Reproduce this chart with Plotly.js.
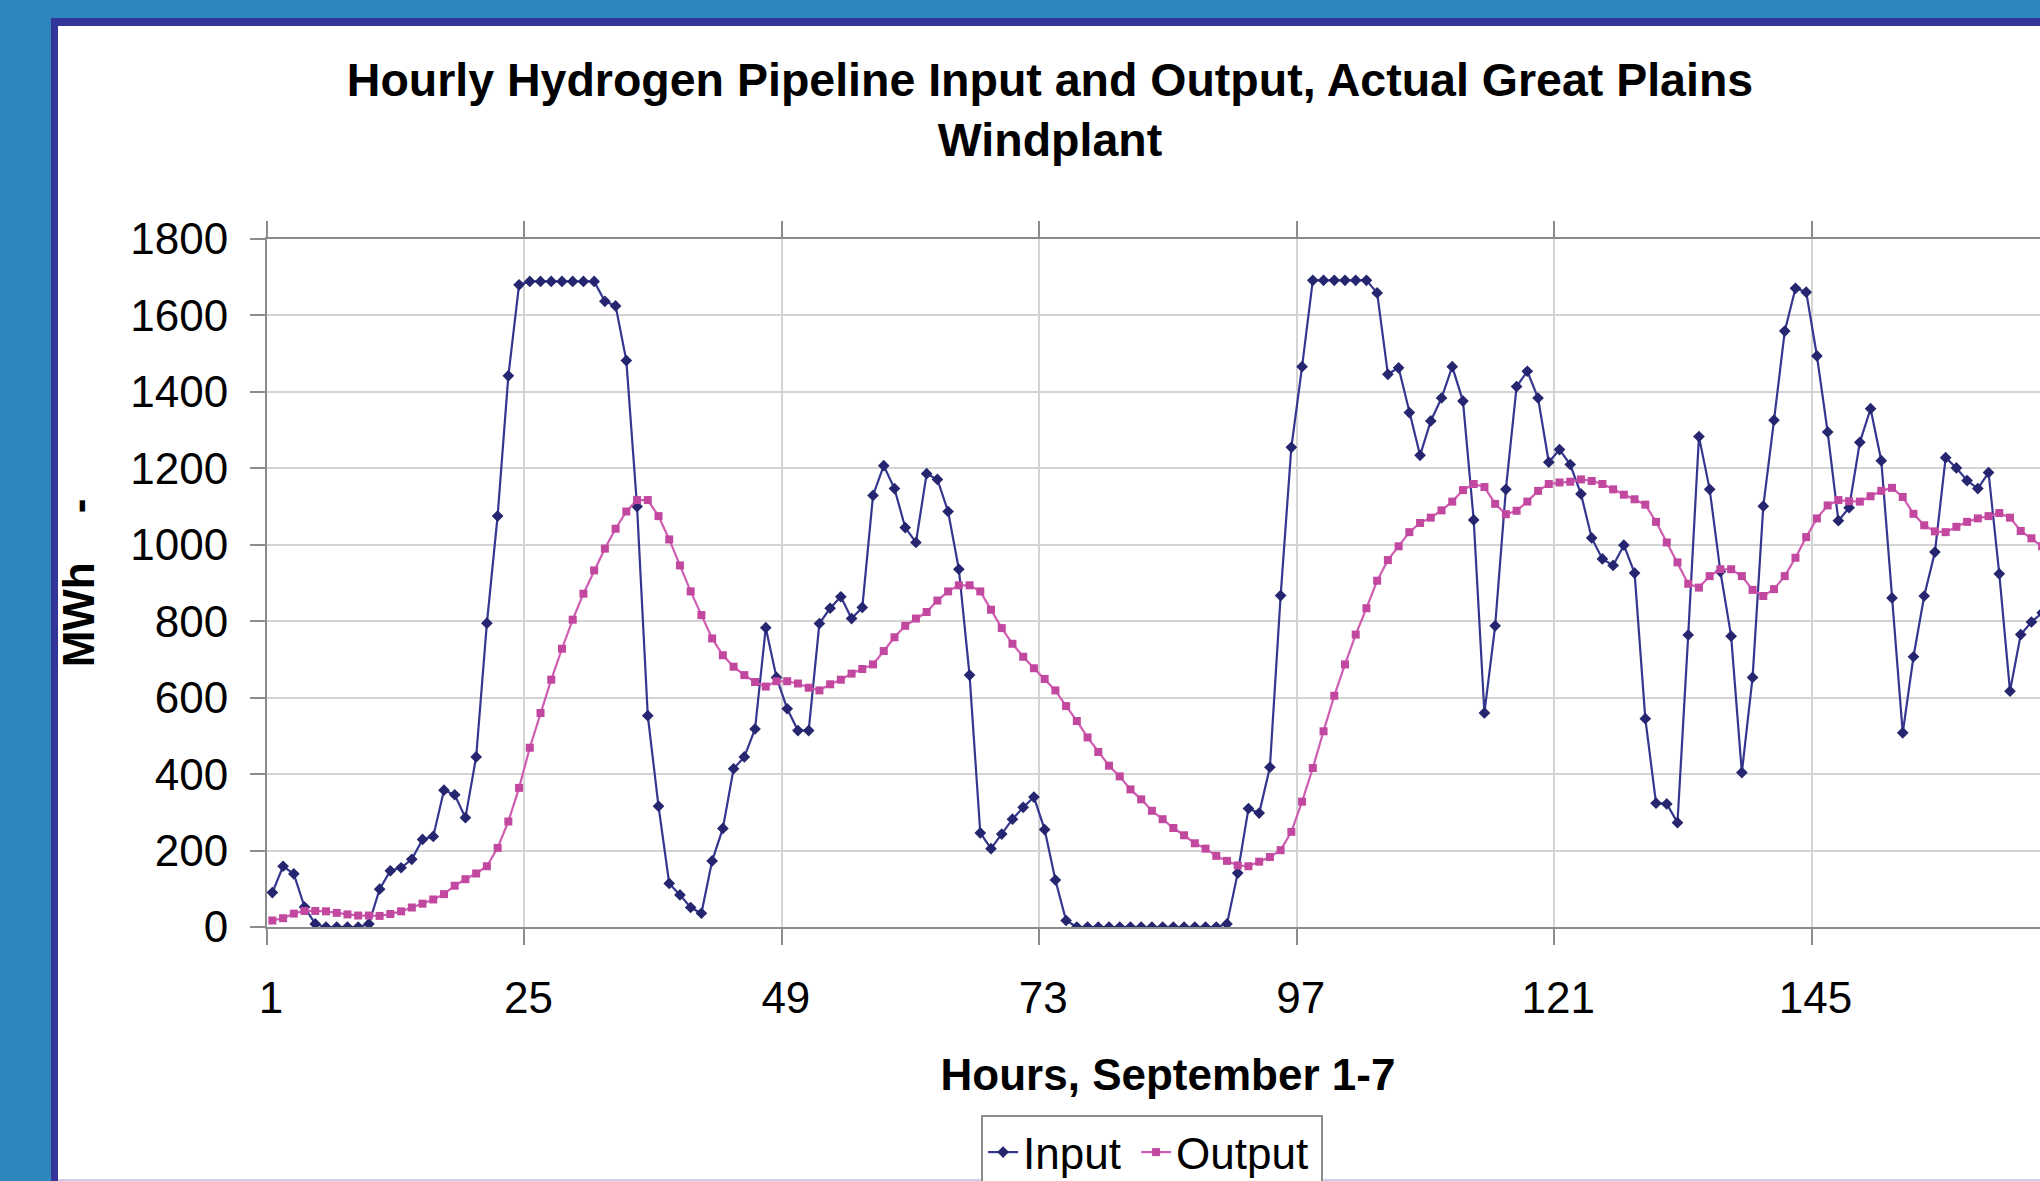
<!DOCTYPE html>
<html>
<head>
<meta charset="utf-8">
<script src="https://cdn.plot.ly/plotly-3.0.1.min.js"></script>
<style>
  html, body { margin: 0; padding: 0; width: 2040px; height: 1181px; overflow: hidden; background: #2F86BD; }
  #frame { position: absolute; left: 51px; top: 18px; width: 1989px; height: 1163px; background: #34359A; }
  #inner { position: absolute; left: 58px; top: 26px; width: 1982px; height: 1153px; background: #ffffff; border-bottom: 2px solid #CFCFEA; }
  #chart { position: absolute; left: 0; top: 0; width: 2100px; height: 1181px; }
</style>
</head>
<body>
<div id="frame"></div>
<div id="inner"></div>
<div id="chart"></div>
<script>
// Hourly values, September 1-7 (hours 1..166 visible in the reference)
const inputMWh = [
  90, 159, 139, 52, 8, 0, 0, 0, 0, 8,
  99, 147, 155, 177, 229, 237, 358, 346, 286, 445,
  795, 1075, 1442, 1680, 1689, 1689, 1689, 1689, 1689, 1689,
  1689, 1637, 1625, 1482, 1100, 553, 316, 114, 84, 51,
  36, 173, 258, 414, 445, 518, 783, 653, 571, 514,
  514, 794, 834, 864, 807, 836, 1129, 1207, 1147, 1045,
  1006, 1186, 1171, 1087, 936, 659, 246, 205, 243, 282,
  313, 340, 255, 123, 17, 0, 0, 0, 0, 0,
  0, 0, 0, 0, 0, 0, 0, 0, 0, 8,
  141, 310, 298, 418, 867, 1255, 1466, 1692, 1692, 1692,
  1692, 1692, 1692, 1659, 1446, 1463, 1346, 1234, 1324, 1384,
  1466, 1376, 1065, 560, 788, 1145, 1414, 1454, 1384, 1216,
  1249, 1210, 1133, 1018, 963, 946, 999, 926, 545, 324,
  322, 273, 764, 1283, 1145, 930, 761, 404, 653, 1101,
  1326, 1559, 1671, 1661, 1494, 1295, 1063, 1097, 1268, 1356,
  1220, 861, 508, 707, 866, 981, 1228, 1201, 1168, 1147,
  1189, 924, 617, 765, 798, 822
];
const outputMWh = [
  17, 23, 35, 42, 42, 41, 37, 33, 30, 30,
  29, 34, 41, 51, 61, 72, 86, 108, 125, 140,
  159, 207, 276, 364, 469, 560, 647, 728, 804, 872,
  933, 990, 1042, 1087, 1117, 1117, 1075, 1014, 946, 878,
  816, 755, 711, 681, 659, 641, 629, 643, 643, 637,
  626, 619, 635, 647, 663, 675, 687, 722, 758, 788,
  807, 824, 854, 878, 894, 894, 878, 830, 782, 741,
  707, 677, 649, 619, 578, 539, 496, 458, 422, 394,
  360, 334, 304, 282, 259, 240, 219, 205, 186, 173,
  161, 159, 171, 183, 201, 249, 328, 416, 512, 605,
  687, 765, 834, 906, 960, 996, 1033, 1057, 1071, 1090,
  1113, 1143, 1159, 1151, 1107, 1080, 1089, 1113, 1141, 1159,
  1163, 1165, 1171, 1167, 1159, 1145, 1131, 1119, 1105, 1060,
  1006, 954, 898, 888, 918, 936, 936, 918, 882, 866,
  884, 918, 966, 1020, 1069, 1103, 1117, 1114, 1113, 1127,
  1141, 1149, 1125, 1081, 1051, 1035, 1033, 1047, 1060, 1069,
  1075, 1083, 1071, 1036, 1017, 996
];
const hours = inputMWh.map((_, i) => i + 1);
const tickHours = [1, 25, 49, 73, 97, 121, 145];
const tickLabels = ["1", "25", "49", "73", "97", "121", "145"];
const yTicks = [0, 200, 400, 600, 800, 1000, 1200, 1400, 1600, 1800];

const FONT = "Liberation Sans, Arial, sans-serif";
const W = 2100, H = 1181;
const pxPerHour = 10.725;
const plotLeft = 267, plotTop = 239, plotBottom = 927;
const plotRight = plotLeft + 168 * pxPerHour; // full week of 168 hours; right part falls outside the 2040px view

const traces = [
  {
    x: hours, y: inputMWh, name: "Input", type: "scatter", mode: "lines+markers",
    line: { color: "#35368F", width: 2.2 },
    marker: { symbol: "diamond", size: 9, color: "#25266F" },
    legendwidth: 108,
    cliponaxis: true
  },
  {
    x: hours, y: outputMWh, name: "Output", type: "scatter", mode: "lines+markers",
    line: { color: "#CF5CB3", width: 2.2 },
    marker: { symbol: "square", size: 8, color: "#C2479F" },
    legendwidth: 140,
    cliponaxis: true
  }
];

const layout = {
  width: W, height: H,
  paper_bgcolor: "rgba(0,0,0,0)", plot_bgcolor: "rgba(0,0,0,0)",
  margin: { l: plotLeft, r: W - plotRight, t: plotTop, b: H - plotBottom, pad: 0, autoexpand: false },
  font: { family: FONT, color: "#000000", size: 44 },
  title: {
    text: "<b>Hourly Hydrogen Pipeline Input and Output, Actual Great Plains<br>Windplant</b>",
    font: { family: FONT, size: 46.5, color: "#000000" },
    xref: "container", x: 1050 / W, xanchor: "center",
    yref: "container", y: 1 - 96 / H, yanchor: "top"
  },
  xaxis: {
    range: [0.5, 168.5],
    tickmode: "array",
    tickvals: tickHours.map(h => h - 0.5),
    ticktext: tickLabels,
    ticks: "outside", ticklen: 16, tickwidth: 2, tickcolor: "#8C8C8C",
    ticklabelstandoff: 15, ticklabelshift: 4,
    tickfont: { family: FONT, size: 44, color: "#000000" },
    showgrid: true, gridcolor: "#D4D4D4", gridwidth: 2,
    showline: true, linecolor: "#8C8C8C", linewidth: 2, mirror: "allticks",
    zeroline: false, fixedrange: true,
    title: { text: "<b>Hours, September 1-7</b>", font: { family: FONT, size: 44, color: "#000000" }, standoff: 38 }
  },
  yaxis: {
    range: [0, 1800],
    tickmode: "array", tickvals: yTicks, ticktext: yTicks.map(String),
    ticks: "outside", ticklen: 15, tickwidth: 2, tickcolor: "#8C8C8C",
    ticklabelstandoff: 13,
    tickfont: { family: FONT, size: 44, color: "#000000" },
    showgrid: true, gridcolor: "#D4D4D4", gridwidth: 2,
    showline: true, linecolor: "#8C8C8C", linewidth: 2,
    zeroline: false, fixedrange: true,
    title: { text: "<b>MWh\u00a0\u00a0\u00a0\u00a0-</b>", font: { family: FONT, size: 44, color: "#000000" }, standoff: 22 }
  },
  showlegend: true,
  legend: {
    orientation: "h",
    x: (1152 - plotLeft) / (plotRight - plotLeft), xanchor: "center",
    y: -(1115 - plotBottom) / (plotBottom - plotTop), yanchor: "top",
    bgcolor: "#FFFFFF", bordercolor: "#8C8C8C", borderwidth: 2,
    font: { family: FONT, size: 44, color: "#000000" },
    itemwidth: 30, tracegroupgap: 0
  }
};

Plotly.newPlot("chart", traces, layout, { staticPlot: true, displayModeBar: false });
</script>
</body>
</html>
